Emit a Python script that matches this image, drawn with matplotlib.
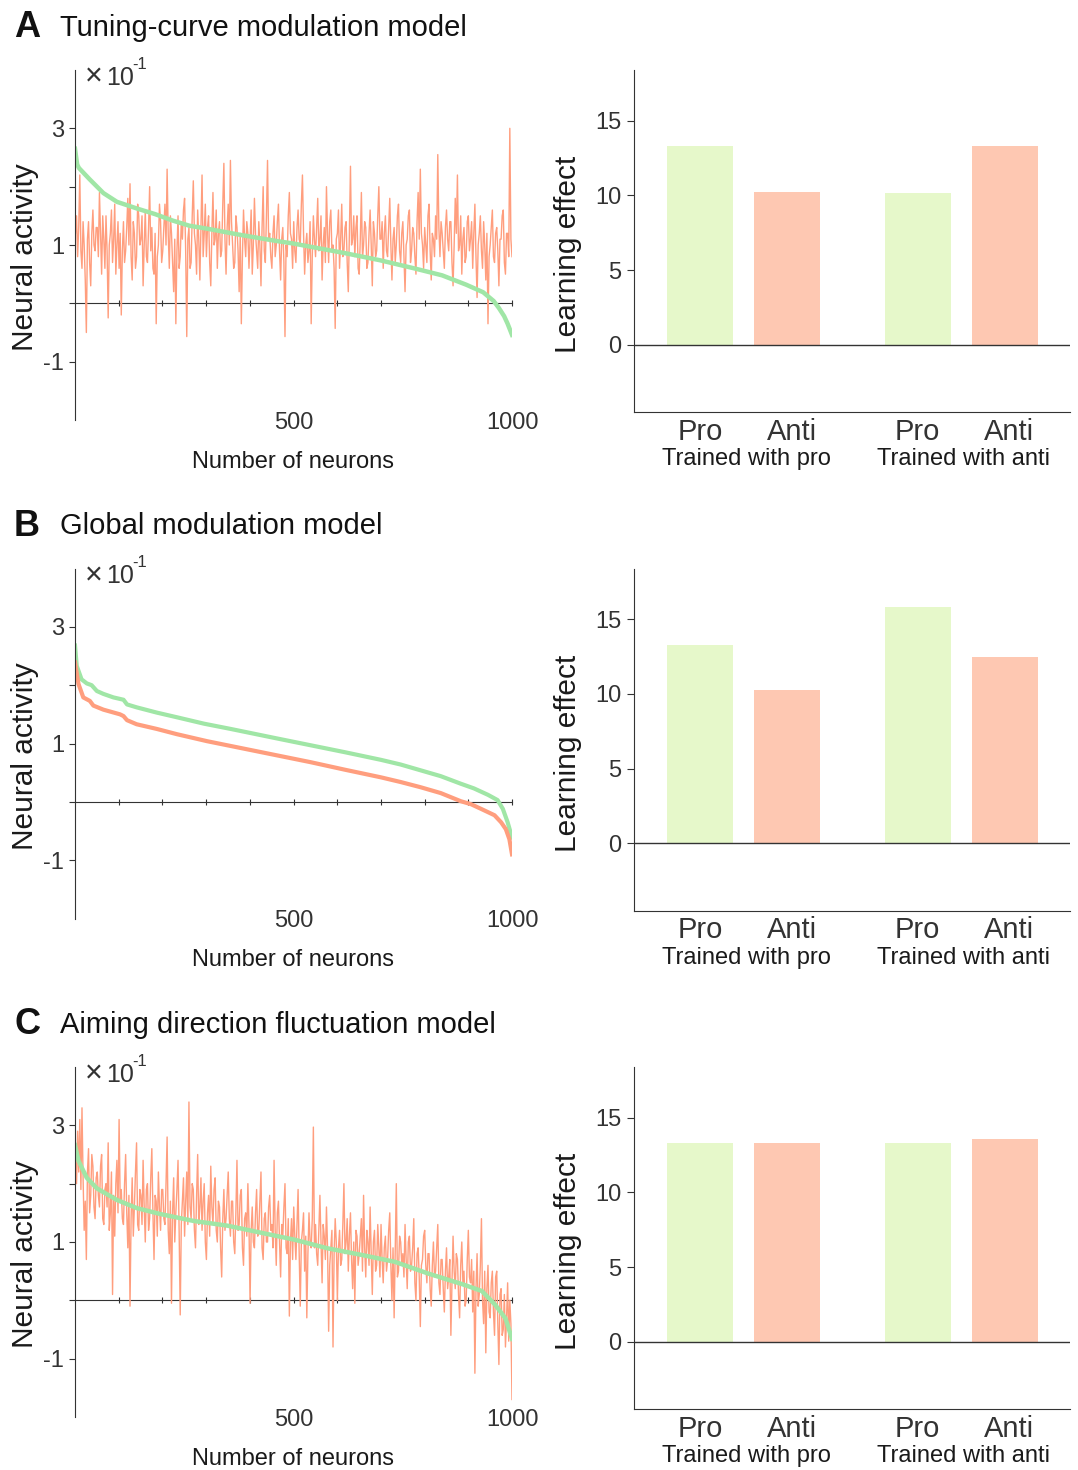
import numpy as np
import matplotlib
matplotlib.use("Agg")
import matplotlib.pyplot as plt

plt.rcParams['font.family'] = ['Liberation Sans', 'DejaVu Sans']

# ---- data (activity shown in units of x10^-1) ----
titles = ["Tuning-curve modulation model", "Global modulation model",
          "Aiming direction fluctuation model"]
letters = ["A", "B", "C"]

# A: sorted mean activity (green) and noisy modulation (orange, one value every 2.5 neurons)
green_a_n = [0, 5, 9, 33, 65, 96, 144, 183, 223, 262, 302, 381, 460, 500, 539, 618,
             697, 776, 840, 895, 934, 958, 970, 982, 990, 1000]
green_a_v = [0.265, 0.238, 0.232, 0.213, 0.189, 0.174, 0.162, 0.153, 0.142, 0.133, 0.128,
             0.117, 0.107, 0.1025, 0.097, 0.086, 0.074, 0.060, 0.048, 0.032, 0.019, 0.004,
             -0.008, -0.022, -0.035, -0.054]
orange_a = [
    0.12, 0.15, 0.08, 0.13, 0.22, 0.09, 0.06, 0.14, 0.10, 0.04, -0.05, 0.11, 0.14, 0.07, 0.03, 0.12, 0.16, 0.10, 0.09, 0.13,
    0.13, 0.08, 0.19, 0.12, 0.05, 0.15, 0.11, 0.06, 0.15, 0.09, -0.025, 0.10, 0.12, 0.16, 0.07, 0.11, 0.17, 0.05, 0.10, 0.14,
    0.06, 0.12, -0.02, 0.09, 0.14, 0.07, 0.09, 0.13, 0.18, 0.10, 0.205, 0.08, 0.04, 0.14, 0.12, 0.06, 0.08, 0.17, 0.15, 0.10,
    0.11, 0.15, 0.03, 0.10, 0.16, 0.08, 0.07, 0.13, 0.20, 0.09, 0.13, 0.06, 0.05, 0.12, -0.035, 0.08, 0.10, 0.17, 0.14, 0.07,
    0.09, 0.13, 0.17, 0.10, 0.23, 0.12, 0.06, 0.15, 0.12, 0.07, 0.02, 0.11, -0.035, 0.09, 0.15, 0.06, 0.08, 0.14, 0.11, 0.16,
    0.18, 0.09, -0.057, 0.11, 0.13, 0.06, 0.07, 0.15, 0.21, 0.12, 0.10, 0.05, 0.16, 0.11, 0.04, 0.13, 0.22, 0.08, 0.12, 0.17,
    0.08, 0.13, 0.15, 0.07, 0.03, 0.12, 0.19, 0.10, 0.11, 0.16, 0.06, 0.12, 0.14, 0.08, 0.09, 0.17, 0.24, 0.11, 0.05, 0.13,
    0.17, 0.10, 0.245, 0.14, 0.10, 0.06, 0.07, 0.15, 0.13, 0.09, 0.02, 0.12, -0.035, 0.08, 0.16, 0.11, 0.08, 0.14, 0.12, 0.06,
    0.11, 0.16, 0.05, 0.10, 0.18, 0.12, 0.09, 0.06, 0.14, 0.10, 0.03, 0.13, 0.20, 0.09, 0.07, 0.15, 0.245, 0.11, 0.12, 0.08,
    0.06, 0.12, 0.15, 0.08, 0.10, 0.14, 0.17, 0.09, 0.04, 0.11, 0.13, 0.07, -0.057, 0.10, 0.08, 0.15, 0.19, 0.12, 0.11, 0.06,
    0.14, 0.09, 0.07, 0.13, 0.16, 0.11, 0.10, 0.17, 0.22, 0.12, 0.05, 0.10, 0.12, 0.07, 0.09, 0.14, -0.035, 0.08, 0.15, 0.11,
    0.08, 0.13, 0.18, 0.09, 0.11, 0.15, 0.04, 0.10, 0.13, 0.07, 0.20, 0.12, 0.07, 0.14, 0.16, 0.09, 0.10, 0.06, -0.043, 0.11,
    0.12, 0.16, 0.06, 0.11, 0.17, 0.08, 0.09, 0.13, 0.14, 0.07, 0.02, 0.12, 0.235, 0.10, 0.11, 0.15, 0.08, 0.13, 0.15, 0.06,
    0.05, 0.11, 0.19, 0.08, 0.10, 0.14, 0.13, 0.06, 0.07, 0.12, 0.16, 0.10, 0.03, 0.14, 0.12, 0.08, 0.09, 0.15, 0.20, 0.11,
    0.11, 0.14, 0.06, 0.12, 0.15, 0.09, 0.08, 0.13, 0.18, 0.10, 0.04, 0.11, 0.13, 0.07, 0.10, 0.15, 0.17, 0.09, 0.07, 0.12,
    0.14, 0.08, 0.02, 0.10, 0.11, 0.15, 0.16, 0.07, 0.09, 0.13, 0.12, 0.08, 0.05, 0.14, 0.19, 0.11, 0.23, 0.12, 0.10, 0.06,
    0.13, 0.10, 0.07, 0.15, 0.17, 0.09, 0.04, 0.12, 0.11, 0.08, 0.15, 0.11, 0.255, 0.13, 0.08, 0.14, 0.12, 0.09, 0.06, 0.13,
    0.16, 0.11, 0.09, 0.14, 0.14, 0.07, 0.03, 0.10, 0.18, 0.12, 0.22, 0.09, 0.10, 0.15, 0.05, 0.11, 0.13, 0.07, 0.08, 0.14,
    0.15, 0.09, 0.11, 0.14, 0.06, 0.12, 0.17, 0.08, 0.01, 0.10, 0.12, 0.15, 0.09, 0.06, 0.14, 0.10, 0.04, 0.12, -0.035, 0.08,
    0.10, 0.13, 0.16, 0.08, 0.07, 0.12, 0.13, 0.09, 0.03, 0.11, 0.11, 0.15, 0.16, 0.07, 0.05, 0.12, 0.12, 0.08, 0.30, 0.11,
    0.08]

# B: two smooth sorted curves
green_b_n = [0, 4, 15, 27, 38, 50, 65, 88, 111, 119, 141, 187, 233, 295, 356, 460, 539,
             618, 700, 745, 791, 837, 883, 913, 945, 967, 979, 990, 1000]
green_b_v = [0.268, 0.233, 0.210, 0.203, 0.200, 0.190, 0.185, 0.179, 0.175, 0.167, 0.162,
             0.153, 0.145, 0.134, 0.125, 0.109, 0.097, 0.085, 0.072, 0.064, 0.054, 0.044,
             0.031, 0.023, 0.012, 0.003, -0.012, -0.035, -0.061]
orange_b_n = [0, 8, 19, 34, 42, 65, 103, 111, 119, 141, 187, 233, 302, 381, 460, 539, 618,
              700, 745, 791, 837, 860, 883, 906, 929, 960, 975, 986, 994, 1000]
orange_b_v = [0.239, 0.202, 0.179, 0.173, 0.165, 0.158, 0.150, 0.147, 0.140, 0.133, 0.125,
              0.116, 0.104, 0.092, 0.080, 0.068, 0.055, 0.042, 0.034, 0.025, 0.015, 0.008,
              0.001, -0.004, -0.012, -0.023, -0.035, -0.047, -0.064, -0.090]

# C: sorted mean (green) and fluctuating activity (orange, one value every 2.5 neurons)
green_c_n = [0, 8, 27, 50, 96, 142, 195, 272, 349, 425, 502, 579, 655, 732, 808, 885,
             931, 962, 985, 1000]
green_c_v = [0.266, 0.239, 0.210, 0.192, 0.172, 0.158, 0.148, 0.136, 0.128, 0.116, 0.104,
             0.089, 0.078, 0.066, 0.046, 0.028, 0.016, -0.008, -0.031, -0.066]
orange_c = [
    0.24, 0.20, 0.29, 0.22, 0.31, 0.19, 0.33, 0.21, 0.12, 0.17, 0.07, 0.22, 0.26, 0.15, 0.18, 0.25, 0.23, 0.16, 0.14, 0.21,
    0.22, 0.18, 0.16, 0.23, 0.25, 0.14, 0.13, 0.19, 0.20, 0.16, 0.27, 0.12, 0.15, 0.22, 0.01, 0.18, 0.11, 0.20, 0.24, 0.15,
    0.31, 0.17, 0.19, 0.14, 0.13, 0.20, 0.25, 0.15, 0.09, 0.18, -0.01, 0.14, 0.21, 0.11, 0.16, 0.22, 0.27, 0.13, 0.12, 0.19,
    0.18, 0.13, 0.24, 0.16, 0.10, 0.19, 0.20, 0.12, 0.14, 0.21, 0.26, 0.15, 0.07, 0.18, 0.17, 0.11, 0.22, 0.16, 0.12, 0.19,
    0.19, 0.14, 0.13, 0.20, 0.28, 0.12, 0.08, 0.17, -0.005, 0.15, 0.21, 0.10, 0.15, 0.19, 0.24, 0.12, -0.025, 0.13, 0.17, 0.21,
    0.11, 0.17, 0.22, 0.13, 0.34, 0.16, 0.14, 0.20, 0.19, 0.12, 0.09, 0.18, 0.25, 0.13, 0.16, 0.21, 0.12, 0.17, 0.20, 0.10,
    0.07, 0.15, 0.18, 0.11, 0.23, 0.16, 0.13, 0.19, 0.21, 0.12, 0.10, 0.17, 0.16, 0.09, 0.04, 0.14, 0.19, 0.12, 0.14, 0.18,
    0.22, 0.14, 0.11, 0.17, 0.17, 0.10, 0.08, 0.15, 0.24, 0.12, 0.13, 0.18, 0.19, 0.09, 0.06, 0.14, 0.15, 0.11, 0.20, 0.13,
    -0.005, 0.12, 0.16, 0.10, 0.09, 0.15, 0.19, 0.11, 0.12, 0.17, 0.22, 0.09, 0.07, 0.14, 0.15, 0.10, 0.10, 0.16, 0.18, 0.12,
    0.13, 0.09, 0.24, 0.12, 0.06, 0.15, 0.17, 0.10, 0.04, 0.13, 0.11, 0.16, 0.20, 0.09, 0.08, 0.14, -0.027, 0.10, 0.14, 0.07,
    0.16, 0.11, 0.07, 0.13, 0.19, 0.08, -0.01, 0.10, 0.12, 0.15, 0.05, 0.11, -0.03, 0.08, 0.15, 0.10, 0.09, 0.14, 0.297, 0.09,
    0.13, 0.08, 0.06, 0.12, 0.18, 0.10, 0.03, 0.13, 0.11, 0.07, 0.16, 0.09, -0.053, 0.06, 0.09, 0.12, -0.08, 0.08, 0.14, 0.10,
    0.0, 0.09, 0.12, 0.06, 0.07, 0.13, 0.20, 0.08, 0.10, 0.14, 0.05, 0.11, 0.15, 0.07, 0.02, 0.10, -0.005, 0.12, 0.11, 0.06,
    0.08, 0.11, 0.14, 0.05, 0.18, 0.09, 0.04, 0.12, 0.10, 0.06, 0.16, 0.08, 0.01, 0.10, 0.12, 0.05, 0.06, 0.13, 0.09, 0.04,
    0.13, 0.07, 0.03, 0.09, 0.11, 0.05, 0.07, 0.12, 0.15, 0.06, 0.00, 0.09, -0.03, 0.08, 0.20, 0.04, 0.05, 0.11, 0.10, 0.06,
    0.08, 0.04, 0.13, 0.07, 0.02, 0.10, 0.11, 0.05, 0.06, 0.09, 0.14, 0.03, 0.00, 0.08, 0.09, 0.04, -0.045, 0.06, 0.07, 0.11,
    0.12, 0.06, 0.03, 0.08, 0.08, 0.02, -0.01, 0.06, 0.10, 0.04, 0.05, 0.09, 0.13, 0.03, 0.01, 0.07, 0.07, 0.02, -0.02, 0.05,
    0.09, 0.02, 0.04, 0.07, -0.06, 0.03, 0.11, 0.05, 0.02, 0.08, 0.07, 0.01, -0.03, 0.06, 0.10, 0.03, 0.05, -0.01, 0.00, 0.07,
    0.12, 0.04, 0.03, 0.07, -0.02, 0.05, -0.125, 0.02, 0.08, -0.01, 0.01, 0.06, 0.14, 0.00, -0.04, 0.05, -0.09, 0.02, 0.06, -0.02,
    -0.03, 0.03, 0.05, -0.02, -0.06, 0.04, 0.05, -0.04, -0.11, 0.01, 0.02, -0.06, -0.05, 0.01, -0.08, -0.03, 0.03, -0.07, 0.00, -0.04,
    -0.17]

# bars: Pro/Anti tested, trained with pro / anti
bar_labels = ["Pro", "Anti", "Pro", "Anti"]
group_labels = ["Trained with pro", "Trained with anti"]
bar_a = [13.3, 10.25, 10.15, 13.3]
bar_b = [13.3, 10.25, 15.8, 12.45]
bar_c = [13.3, 13.3, 13.3, 13.6]

GREEN_LINE = "#A0E6A6"
ORANGE_LINE = "#FF9E7E"
GREEN_BAR = "#E6F8CA"
ORANGE_BAR = "#FEC8B2"
DARK = "#333333"

W, H = 1078, 1470
fig = plt.figure(figsize=(W / 100, H / 100), dpi=100)


def fx(px):
    return px / W


def fy(py):
    return 1 - py / H


def line_panel(ax):
    ax.set_xlim(0, 1000)
    ax.set_ylim(-0.2, 0.4)
    for s in ['top', 'right', 'bottom']:
        ax.spines[s].set_visible(False)
    ax.spines['left'].set_color(DARK)
    ax.set_yticks([-0.1, 0, 0.1, 0.2, 0.3])
    ax.set_yticklabels(['-1', '', '1', '', '3'])
    ax.tick_params(axis='y', direction='out', length=4, colors=DARK, labelsize=17, pad=4)
    ax.set_xticks([500, 1000])
    ax.set_xticklabels(['500', '1000'])
    ax.tick_params(axis='x', length=0, labelsize=17, colors=DARK, pad=-6)
    # zero line carrying the neuron ticks
    sec = ax.secondary_xaxis(0.2 / 0.6)
    sec.set_xticks(np.arange(100, 1001, 100))
    sec.tick_params(axis='x', direction='inout', length=5, colors=DARK, labelbottom=False)
    sec.spines['bottom'].set_color(DARK)
    ax.text(0.5, -0.12, "Number of neurons", transform=ax.transAxes, ha='center',
            va='center', fontsize=17, color='#1a1a1a')
    ax.text(-0.114, 0.465, "Neural activity", transform=ax.transAxes, ha='center',
            va='center', rotation=90, fontsize=21.5, color='#1a1a1a')
    ax.text(0.022, 0.978, "\u00d7", transform=ax.transAxes, ha='left', va='center',
            fontsize=22, color=DARK)
    ax.text(0.072, 0.978, "10", transform=ax.transAxes, ha='left', va='center',
            fontsize=18, color=DARK)
    ax.text(0.131, 1.016, "-1", transform=ax.transAxes, ha='left', va='center',
            fontsize=12, color=DARK)


def bar_panel(ax, vals):
    pos = [1, 2, 3.5, 4.5]
    ax.bar(pos, vals, width=0.76, color=[GREEN_BAR, ORANGE_BAR, GREEN_BAR, ORANGE_BAR])
    ax.axhline(0, color=DARK, lw=1)
    ax.set_xlim(0.24, 5.25)
    ax.set_ylim(-4.5, 18.4)
    for s in ['top', 'right']:
        ax.spines[s].set_visible(False)
    ax.spines['left'].set_color(DARK)
    ax.spines['bottom'].set_color(DARK)
    ax.set_yticks([0, 5, 10, 15])
    ax.tick_params(axis='y', direction='out', length=5, colors=DARK, labelsize=17, pad=4)
    ax.set_xticks([])
    tr = ax.get_xaxis_transform()
    for p, lab in zip(pos, bar_labels):
        ax.text(p + (0.05 if lab == "Anti" else 0), -0.058, lab, transform=tr,
                ha='center', va='center', fontsize=21, color=DARK)
    for p, lab in zip([1.5, 4.0], group_labels):
        ax.text(p + 0.03, -0.138, lab, transform=tr, ha='center', va='center',
                fontsize=17, color='#1a1a1a')
    ax.text(-0.151, 0.46, "Learning effect", transform=ax.transAxes, ha='center',
            va='center', rotation=90, fontsize=21.5, color='#1a1a1a')


row_off = 498.5
bars = [bar_a, bar_b, bar_c]
for r in range(3):
    off = r * row_off
    fig.text(fx(14), fy(37 + off), letters[r], fontsize=26, fontweight='bold',
             ha='left', va='baseline', color='#111111')
    fig.text(fx(60), fy(36 + off), titles[r], fontsize=21, ha='left', va='baseline',
             color='#111111')
    axl = fig.add_axes([fx(75), fy(420 + off), fx(437), 350 / H])
    line_panel(axl)
    axr = fig.add_axes([fx(634), fy(412 + off), fx(436), 342 / H])
    bar_panel(axr, bars[r])

    if r == 0:
        axl.plot(np.linspace(1, 1000, len(orange_a)), orange_a, color=ORANGE_LINE, lw=1.0)
        axl.plot(green_a_n, green_a_v, color=GREEN_LINE, lw=3.2)
    elif r == 1:
        axl.plot(green_b_n, green_b_v, color=GREEN_LINE, lw=3.0)
        axl.plot(orange_b_n, orange_b_v, color=ORANGE_LINE, lw=3.0)
    else:
        axl.plot(np.linspace(1, 1000, len(orange_c)), orange_c, color=ORANGE_LINE, lw=1.0)
        axl.plot(green_c_n, green_c_v, color=GREEN_LINE, lw=3.2)

fig.savefig("out.png", dpi=100)
